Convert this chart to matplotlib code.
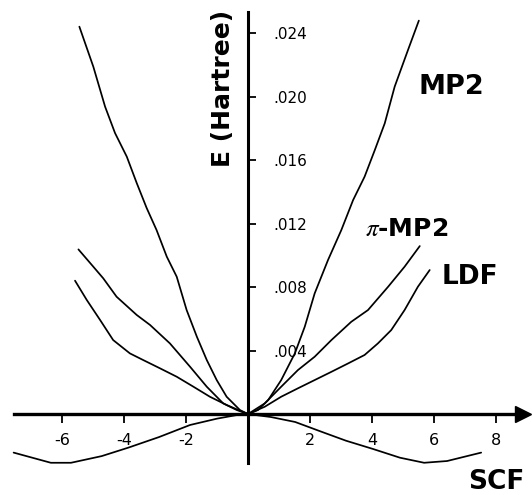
import matplotlib
matplotlib.use("Agg")
import matplotlib.pyplot as plt

plt.rcParams['font.family'] = ['DejaVu Sans']
plt.rcParams['mathtext.fontset'] = 'stix'

# ---- data ----
mp2_x = [-5.44, -4.99, -4.61, -4.29, -3.91, -3.59, -3.27, -2.95, -2.62, -2.30, -1.98, -1.65,
         -1.33, -1.01, -0.69, -0.26, 0.0, 0.32, 0.65, 1.07, 1.51, 1.83, 2.15, 2.58, 3.01,
         3.39, 3.76, 4.09, 4.41, 4.73, 5.16, 5.51]
mp2_y = [0.0244, 0.02188, 0.01936, 0.0177, 0.01621, 0.01455, 0.01298, 0.01159, 0.00991,
         0.00865, 0.00655, 0.00487, 0.0034, 0.00214, 0.00109, 0.00025, 0.0, 0.00025,
         0.00088, 0.00214, 0.00382, 0.0055, 0.0076, 0.0097, 0.01159, 0.01348, 0.01495,
         0.01663, 0.01831, 0.02062, 0.02293, 0.02478]

pimp2_x = [-5.47, -4.99, -4.67, -4.24, -3.59, -3.16, -2.52, -1.87, -1.33, -0.80, -0.36, 0.0,
           0.54, 1.07, 1.61, 2.15, 2.69, 3.33, 3.87, 4.52, 5.05, 5.54]
pimp2_y = [0.01037, 0.00928, 0.00855, 0.00739, 0.00624, 0.00561, 0.00445, 0.00298, 0.00172,
           0.00067, 0.00025, 0.0, 0.00067, 0.00172, 0.00277, 0.00361, 0.00466, 0.00581,
           0.00655, 0.00802, 0.00928, 0.01058]

ldf_x = [-5.58, -5.20, -4.77, -4.35, -3.81, -3.38, -2.84, -2.30, -1.76, -1.23, -0.69, -0.26,
         0.0, 0.54, 1.07, 1.61, 2.15, 2.69, 3.23, 3.76, 4.19, 4.62, 5.05, 5.48, 5.86]
ldf_y = [0.0084, 0.00718, 0.00592, 0.00466, 0.00382, 0.0034, 0.00288, 0.00235, 0.00172,
         0.00109, 0.00057, 0.00021, 0.0, 0.00046, 0.00109, 0.00162, 0.00214, 0.00266,
         0.00319, 0.00372, 0.00445, 0.00529, 0.00655, 0.00802, 0.00907]

scf_x = [-7.56, -6.36, -5.71, -4.72, -3.85, -2.87, -1.87, -1.00, -0.35, 0.0, 0.74, 1.52,
         2.39, 3.16, 4.03, 4.90, 5.68, 6.42, 7.52]
scf_y = [-0.00243, -0.00307, -0.00307, -0.00265, -0.00211, -0.00145, -0.00069, -0.00029,
         -0.00006, 0.0, -0.00019, -0.0005, -0.00113, -0.00168, -0.0022, -0.00275, -0.00307,
         -0.00296, -0.00243]

x_ticks = [-6, -4, -2, 2, 4, 6, 8]
x_tick_labels = ['-6', '-4', '-2', '2', '4', '6', '8']
y_ticks = [0.004, 0.008, 0.012, 0.016, 0.020, 0.024]
y_tick_labels = ['.004', '.008', '.012', '.016', '.020', '.024']

fig = plt.figure(figsize=(5.32, 4.95), dpi=100)
ax = fig.add_axes([0, 0, 1, 1])
ax.set_xlim(-8.0, 9.16)
ax.set_ylim(-0.0051, 0.02608)

for xs, ys in [(mp2_x, mp2_y), (pimp2_x, pimp2_y), (ldf_x, ldf_y), (scf_x, scf_y)]:
    ax.plot(xs, ys, color='black', lw=1.25, solid_joinstyle='round', solid_capstyle='round')

# axes through origin
ax.spines['top'].set_visible(False)
ax.spines['left'].set_visible(False)
ax.spines['bottom'].set_position(('data', 0))
ax.spines['right'].set_position(('data', 0))
ax.spines['bottom'].set_bounds(-7.55, 8.8)
ax.spines['right'].set_bounds(-0.0031, 0.0253)
ax.spines['bottom'].set_linewidth(2.4)
ax.spines['right'].set_linewidth(2.2)
ax.patch.set_visible(False)

ax.plot([8.88], [0], marker='>', ms=12, color='black', clip_on=False)

ax.set_xticks(x_ticks)
ax.set_xticklabels(x_tick_labels)
ax.xaxis.set_ticks_position('bottom')
ax.tick_params(axis='x', direction='out', length=6.5, width=1.3, pad=7, labelsize=11.5)

ax.yaxis.set_ticks_position('right')
ax.set_yticks(y_ticks)
ax.set_yticklabels(y_tick_labels)
ax.tick_params(axis='y', direction='out', length=6, width=1.3, pad=12, labelsize=11)

ax.text(0.419, 0.821, 'E (Hartree)', transform=ax.transAxes, rotation=90,
        ha='center', va='center', fontsize=18, fontweight='bold')
ax.text(0.848, 0.824, 'MP2', transform=ax.transAxes, ha='center', va='center',
        fontsize=19.5, fontweight='bold')
ax.text(0.765, 0.537, r'$\pi$-MP2', transform=ax.transAxes, ha='center', va='center',
        fontsize=18, fontweight='bold')
ax.text(0.883, 0.440, 'LDF', transform=ax.transAxes, ha='center', va='center',
        fontsize=19, fontweight='bold')
ax.text(0.933, 0.026, 'SCF', transform=ax.transAxes, ha='center', va='center',
        fontsize=19, fontweight='bold')

fig.savefig('out.png', dpi=100)
